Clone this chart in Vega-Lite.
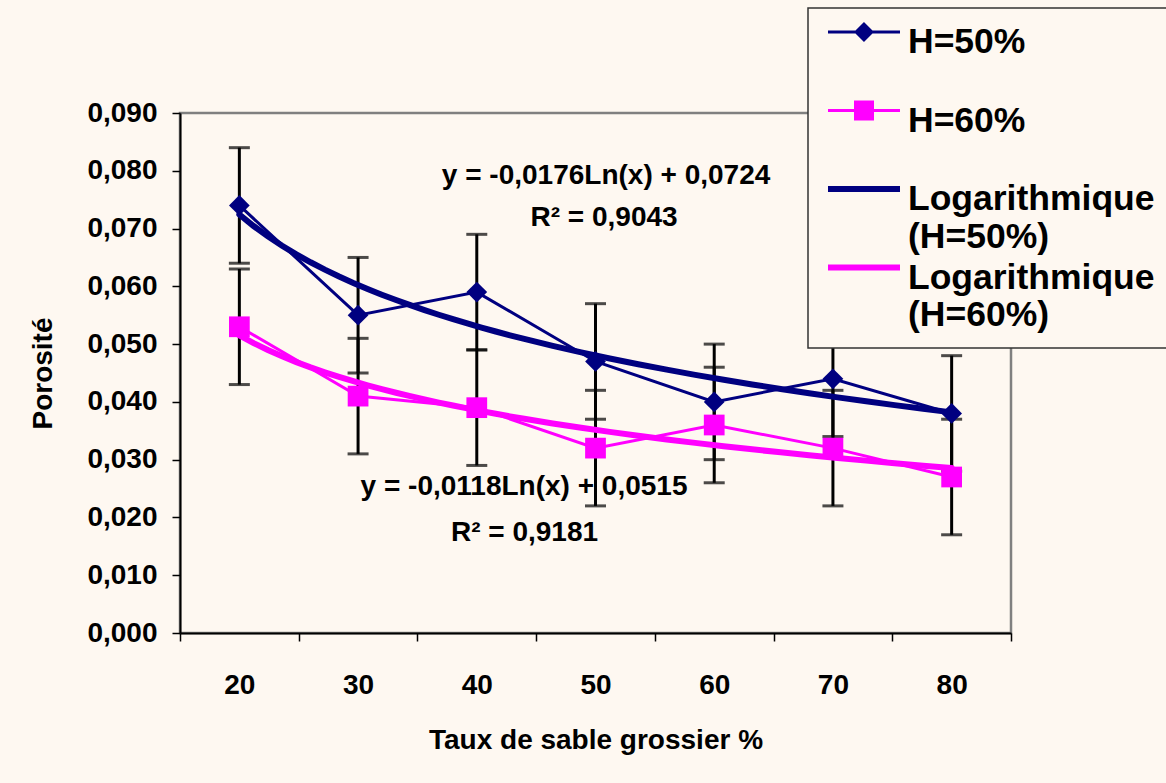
{
  "$schema": "https://vega.github.io/schema/vega-lite/v6.json",
  "width": 831,
  "height": 520,
  "autosize": {"type": "none"},
  "padding": {"left": 180, "top": 113, "right": 155, "bottom": 150},
  "background": "#FEF8F1",
  "data": {
    "values": [
      {"serie": "H=50%", "trend": "Logarithmique (H=50%)", "idx": 1, "value": 0.074, "err": 0.01},
      {"serie": "H=50%", "trend": "Logarithmique (H=50%)", "idx": 2, "value": 0.055, "err": 0.01},
      {"serie": "H=50%", "trend": "Logarithmique (H=50%)", "idx": 3, "value": 0.059, "err": 0.01},
      {"serie": "H=50%", "trend": "Logarithmique (H=50%)", "idx": 4, "value": 0.047, "err": 0.01},
      {"serie": "H=50%", "trend": "Logarithmique (H=50%)", "idx": 5, "value": 0.040, "err": 0.01},
      {"serie": "H=50%", "trend": "Logarithmique (H=50%)", "idx": 6, "value": 0.044, "err": 0.01},
      {"serie": "H=50%", "trend": "Logarithmique (H=50%)", "idx": 7, "value": 0.038, "err": 0.01},
      {"serie": "H=60%", "trend": "Logarithmique (H=60%)", "idx": 1, "value": 0.053, "err": 0.01},
      {"serie": "H=60%", "trend": "Logarithmique (H=60%)", "idx": 2, "value": 0.041, "err": 0.01},
      {"serie": "H=60%", "trend": "Logarithmique (H=60%)", "idx": 3, "value": 0.039, "err": 0.01},
      {"serie": "H=60%", "trend": "Logarithmique (H=60%)", "idx": 4, "value": 0.032, "err": 0.01},
      {"serie": "H=60%", "trend": "Logarithmique (H=60%)", "idx": 5, "value": 0.036, "err": 0.01},
      {"serie": "H=60%", "trend": "Logarithmique (H=60%)", "idx": 6, "value": 0.032, "err": 0.01},
      {"serie": "H=60%", "trend": "Logarithmique (H=60%)", "idx": 7, "value": 0.027, "err": 0.01}
    ]
  },
  "encoding": {
    "x": {
      "field": "idx",
      "type": "quantitative",
      "scale": {"domain": [0.5, 7.5], "nice": false, "zero": false},
      "axis": {
        "values": [0.5, 1.5, 2.5, 3.5, 4.5, 5.5, 6.5, 7.5],
        "labelExpr": "datum.value < 7 ? format(datum.value * 10 + 15, 'd') : ''",
        "labelOffset": 59.36,
        "labelFlush": false,
        "labelOverlap": false,
        "labelPadding": 30,
        "title": "Taux de sable grossier %",
        "titlePadding": 27
      }
    },
    "y": {
      "field": "value",
      "type": "quantitative",
      "scale": {"domain": [0, 0.09], "nice": false},
      "axis": {
        "values": [0, 0.01, 0.02, 0.03, 0.04, 0.05, 0.06, 0.07, 0.08, 0.09],
        "format": ".3f",
        "labelPadding": 15,
        "title": "Porosité",
        "titlePadding": 29
      }
    }
  },
  "layer": [
    {
      "mark": {
        "type": "errorbar",
        "color": "black",
        "rule": {"strokeWidth": 3},
        "ticks": {"size": 21, "thickness": 3}
      },
      "encoding": {
        "yError": {"field": "err"}
      }
    },
    {
      "mark": {"type": "line", "strokeWidth": 3},
      "encoding": {
        "detail": {"field": "serie", "type": "nominal"},
        "stroke": {
          "condition": {"test": "datum.serie == 'H=50%'", "value": "#000080"},
          "value": "#FF00FF"
        }
      }
    },
    {
      "transform": [
        {"regression": "value", "on": "idx", "method": "log", "groupby": ["trend"], "extent": [1, 7]}
      ],
      "mark": {"type": "line", "strokeWidth": 6, "strokeCap": "round"},
      "encoding": {
        "detail": {"field": "trend", "type": "nominal"},
        "stroke": {
          "condition": {"test": "datum.trend == 'Logarithmique (H=50%)'", "value": "#000080"},
          "value": "#FF00FF"
        }
      }
    },
    {
      "mark": {"type": "point", "filled": true, "opacity": 1, "size": 430},
      "encoding": {
        "shape": {
          "condition": {"test": "datum.serie == 'H=50%'", "value": "diamond"},
          "value": "square"
        },
        "color": {
          "condition": {"test": "datum.serie == 'H=50%'", "value": "#000080"},
          "value": "#FF00FF"
        }
      }
    },
    {
      "description": "legend carrier: zero-size points, only their legend is seen",
      "mark": {"type": "point", "filled": true, "size": 0},
      "encoding": {
        "color": {
          "field": "serie",
          "type": "nominal",
          "scale": {
            "domain": ["H=50%", "H=60%", "Logarithmique (H=50%)", "Logarithmique (H=60%)"],
            "range": ["#000080", "#FF00FF", "#000080", "#FF00FF"]
          },
          "legend": {
            "title": null,
            "orient": "none",
            "legendX": 628,
            "legendY": -105,
            "labelExpr": "indexof(datum.label, 'Logarithmique') == 0 ? ['Logarithmique', substring(datum.label, 14)] : [datum.label, '']"
          }
        },
        "shape": {
          "field": "serie",
          "type": "nominal",
          "scale": {
            "domain": ["H=50%", "H=60%", "Logarithmique (H=50%)", "Logarithmique (H=60%)"],
            "range": [
              "M-0.8065,-0.7258H1.5161V-0.629H-0.8065ZM0.0322,-0.6774L0.3548,-1L0.6774,-0.6774L0.3548,-0.3548Z",
              "M-0.8065,-0.7258H1.5161V-0.629H-0.8065ZM0.0322,-1H0.6774V-0.3548H0.0322Z",
              "M-0.8065,-0.7742H1.5161V-0.5806H-0.8065Z",
              "M-0.8065,-0.7742H1.5161V-0.5806H-0.8065Z"
            ]
          },
          "legend": {
            "title": null,
            "orient": "none",
            "legendX": 628,
            "legendY": -105,
            "labelExpr": "indexof(datum.label, 'Logarithmique') == 0 ? ['Logarithmique', substring(datum.label, 14)] : [datum.label, '']"
          }
        }
      }
    },
    {
      "data": {
        "values": [
          {"idx": 4.089, "value": 0.07916, "text": "y = -0,0176Ln(x) + 0,0724"},
          {"idx": 4.072, "value": 0.07189, "text": "R² = 0,9043"},
          {"idx": 3.398, "value": 0.02534, "text": "y = -0,0118Ln(x) + 0,0515"},
          {"idx": 3.402, "value": 0.01738, "text": "R² = 0,9181"}
        ]
      },
      "mark": {
        "type": "text",
        "font": "Liberation Sans",
        "fontWeight": "bold",
        "fontSize": 28,
        "color": "black",
        "align": "center",
        "baseline": "middle"
      },
      "encoding": {
        "text": {"field": "text"}
      }
    }
  ],
  "config": {
    "locale": {
      "number": {"decimal": ",", "thousands": " ", "grouping": [3], "currency": ["", " €"]}
    },
    "view": {"stroke": "#808080", "strokeWidth": 2.5},
    "axis": {
      "grid": false,
      "domainColor": "#000000",
      "domainWidth": 2,
      "tickColor": "#000000",
      "tickWidth": 1.5,
      "tickSize": 8,
      "labelFont": "Liberation Sans",
      "labelFontSize": 28,
      "labelFontWeight": "bold",
      "labelColor": "#000000",
      "titleFont": "Liberation Sans",
      "titleFontSize": 28,
      "titleFontWeight": "bold",
      "titleColor": "#000000"
    },
    "legend": {
      "fillColor": "#FEF8F1",
      "strokeColor": "#333333",
      "strokeWidth": 1.5,
      "padding": 14,
      "symbolSize": 3844,
      "symbolStrokeWidth": 0,
      "symbolOpacity": 1,
      "labelFont": "Liberation Sans",
      "labelFontSize": 35.5,
      "labelFontWeight": "bold",
      "labelColor": "#000000",
      "labelBaseline": "alphabetic",
      "labelOffset": 24,
      "labelLimit": 0,
      "rowPadding": 2.5
    }
  }
}
